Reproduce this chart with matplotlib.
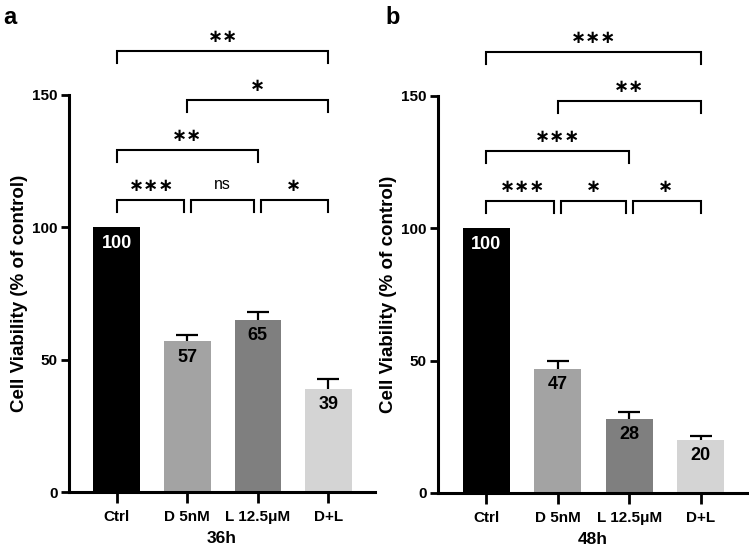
import matplotlib
matplotlib.use("Agg")
import matplotlib.pyplot as plt

NARROW = ['Liberation Sans Narrow', 'Liberation Sans', 'DejaVu Sans']
WIDE = ['Liberation Sans', 'DejaVu Sans']
plt.rcParams['font.family'] = NARROW

groups = ["Ctrl", "D 5nM", "L 12.5\u03bcM", "D+L"]
colors = ["#000000", "#a3a3a3", "#7f7f7f", "#d4d4d4"]

vals_36 = [100, 57, 65, 39]
err_36 = [0, 2.3, 2.9, 3.8]
vals_48 = [100, 47, 28, 20]
err_48 = [0, 3.0, 2.7, 1.6]

# (left, right, level, label)
sig_36 = [(0, 1, 0, "***"), (1, 2, 0, "ns"), (2, 3, 0, "*"),
          (0, 2, 1, "**"), (1, 3, 2, "*"), (0, 3, 3, "**")]
sig_48 = [(0, 1, 0, "***"), (1, 2, 0, "*"), (2, 3, 0, "*"),
          (0, 2, 1, "***"), (1, 3, 2, "**"), (0, 3, 3, "***")]
levels = [110.3, 129.2, 148.1, 166.6]

W, H = 749, 552
fig = plt.figure(figsize=(W / 100, H / 100), dpi=100)


def panel(rect, vals, errs, sigs, xlabel, letter, letter_x):
    ax = fig.add_axes(rect)
    x = list(range(len(groups)))
    ax.bar(x, vals, width=0.66, color=colors, zorder=2)
    for i in x:
        if errs[i] > 0:
            top = vals[i] + errs[i]
            ax.vlines(i, vals[i], top, color='black', lw=1.6, zorder=3)
            ax.hlines(top, i - 0.155, i + 0.155, color='black', lw=1.6,
                      zorder=3)
        tc = 'white' if i == 0 else 'black'
        ax.text(i, vals[i] - 2.8, str(vals[i]), ha='center', va='top',
                color=tc, fontsize=13, fontweight='bold', zorder=4)
    ax.set_xlim(-0.676, 3.66)
    ax.set_ylim(0, 150)
    ax.set_yticks([0, 50, 100, 150])
    ax.set_xticks(x)
    ax.set_xticklabels(groups, fontsize=11, fontweight='bold')
    ax.tick_params(axis='y', width=2, length=6, labelsize=11, pad=2)
    ax.tick_params(axis='x', width=2, length=8, labelsize=11, pad=5)
    for lab in ax.get_yticklabels():
        lab.set_fontweight('bold')
    for s in ['top', 'right']:
        ax.spines[s].set_visible(False)
    for s in ['left', 'bottom']:
        ax.spines[s].set_linewidth(2.2)
    ax.set_xlabel(xlabel, fontsize=12.5, fontweight='bold',
                  family=WIDE, labelpad=5)
    ax.set_ylabel("Cell Viability (% of control)", fontsize=13.5,
                  fontweight='bold', family=WIDE, labelpad=3)
    gap = 0.05
    for a, b, lv, lab in sigs:
        y = levels[lv]
        xa, xb = a, b
        if lv == 0:
            xa = a + (gap if a > 0 else 0)
            xb = b - (gap if b < 3 else 0)
        ax.plot([xa, xa, xb, xb], [y - 4.6, y, y, y - 4.6], color='black',
                lw=1.5, clip_on=False, solid_joinstyle='miter')
        if lab == "ns":
            ax.text((a + b) / 2, y + 3, lab, ha='center', va='bottom',
                    fontsize=11.5, clip_on=False)
        else:
            ax.text((a + b) / 2, y + 2, lab.replace("*", "\u2217"),
                    ha='center', va='bottom', fontsize=13,
                    family=['DejaVu Sans'], fontweight='bold', clip_on=False)
    fig.text(letter_x / W, 1 - 17 / H, letter, fontsize=17, fontweight='bold',
             family=WIDE, va='center')
    return ax


panel([69 / W, 1 - 492 / H, (375 - 69) / W, (492 - 95) / H],
      vals_36, err_36, sig_36, "36h", "a", 3)
panel([438 / W, 1 - 493 / H, (748 - 438) / W, (493 - 96) / H],
      vals_48, err_48, sig_48, "48h", "b", 385)

fig.savefig("out.png", dpi=100)
